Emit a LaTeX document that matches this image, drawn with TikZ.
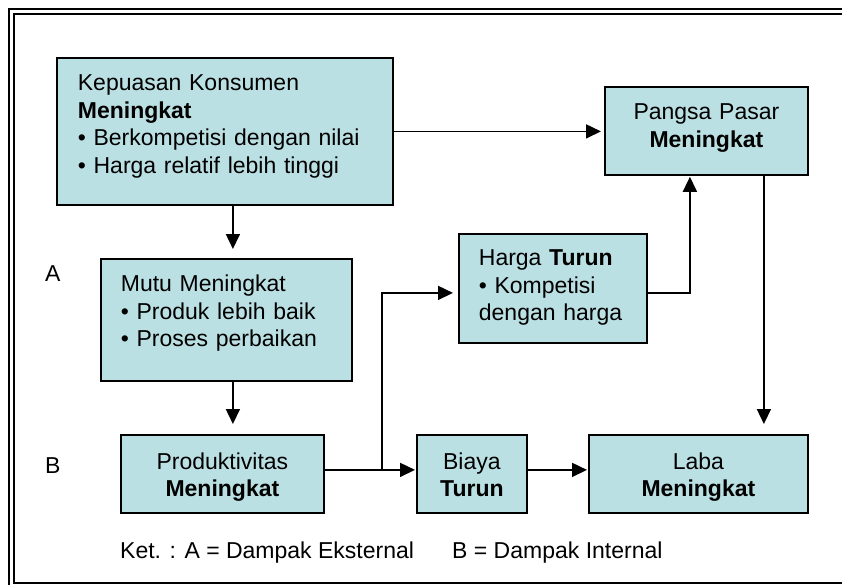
\documentclass[tikz,border=0pt]{standalone}
\usepackage{fontspec}
\setmainfont{Liberation Sans}
\usetikzlibrary{arrows.meta}
\definecolor{isian}{RGB}{187,224,227}
\tikzset{
  kotak/.style={draw, line width=1.8pt, fill=isian, inner ysep=0pt, anchor=north west,
    font=\fontsize{23}{27.5}\selectfont},
  kiri/.style={kotak, align=left},
  tengah/.style={kotak, align=center, inner xsep=0pt},
  panah/.style={line width=1.6pt, -{Triangle[length=15pt,width=14pt]}},
  label/.style={anchor=base west, inner sep=0pt, font=\fontsize{23}{27.5}\selectfont},
  bingkai/.style={line width=2.4pt}
}
\begin{document}
\begin{tikzpicture}[x=1pt, y=-1pt]
    \useasboundingbox (0,0) rectangle (842,585);

    % Double frame, cut off at right and bottom
    \begin{scope}
      \clip (0,0) rectangle (842,585);
      \draw[bingkai] (9,600) -- (9,9) -- (860,9);
      \draw[bingkai] (860,583) -- (14,583) -- (14,14) -- (860,14);
    \end{scope}

    % Boxes
    \node[kiri, inner xsep=21pt, text width=294pt, text height=33pt, text depth=114pt] (kepuasan) at (56,57)
      {Kepuasan Konsumen\\ \textbf{Meningkat}\\ • Berkompetisi dengan nilai\\ • Harga relatif lebih tinggi};
    \node[kiri, inner xsep=20pt, text width=211pt, text height=33pt, text depth=89pt] (mutu) at (100,258)
      {Mutu Meningkat\\ • Produk lebih baik\\ • Proses perbaikan};
    \node[kiri, inner xsep=20pt, text width=148pt, text height=32pt, text depth=77pt] (harga) at (458,233)
      {Harga \textbf{Turun}\\ • Kompetisi\\ dengan harga};
    \node[tengah, text width=203pt, text height=33pt, text depth=55pt] (pangsa) at (604,86)
      {Pangsa Pasar\\ \textbf{Meningkat}};
    \node[tengah, text width=203pt, text height=34.5pt, text depth=43.5pt] (prod) at (120,434)
      {Produktivitas\\ \textbf{Meningkat}};
    \node[tengah, text width=110pt, text height=34.5pt, text depth=43.5pt] (biaya) at (416,434)
      {Biaya\\ \textbf{Turun}};
    \node[tengah, text width=219pt, text height=34.5pt, text depth=43.5pt] (laba) at (588,434)
      {Laba\\ \textbf{Meningkat}};

    % Side labels and legend
    \node[label] (labelA) at (45,281) {A};
    \node[label] (labelB) at (45,473) {B};
    \node[label] (ketA) at (120,558) {Ket. : A = Dampak Eksternal};
    \node[label] (ketB) at (452,558) {B = Dampak Internal};

    % Connectors
    \coordinate (p1) at ([xshift=8pt]kepuasan.south);
    \draw[panah, shorten >=9pt] (p1) -- (p1 |- mutu.north);
    \draw[panah, shorten >=10pt] (p1 |- mutu.south) -- (p1 |- prod.north);
    \draw[panah, shorten >=3pt] (kepuasan.east) -- (kepuasan.east -| pangsa.west);

    \coordinate (q) at ([yshift=4pt]prod.east);
    \draw[panah, shorten >=1pt] (q) -- (q -| biaya.west);
    \coordinate (cabang) at ([xshift=57pt]q);
    \draw[panah, shorten >=5pt] (cabang) |- ([yshift=-4.5pt]harga.west);
    \draw[panah, shorten >=1pt] ([yshift=-4.5pt]harga.east) -| ([xshift=-16.5pt]pangsa.south);

    \coordinate (r) at ([xshift=57.5pt]pangsa.south);
    \draw[panah, shorten >=10pt] (r) -- (r |- laba.north);
    \coordinate (s) at ([yshift=4pt]biaya.east);
    \draw[panah, shorten >=1pt] (s) -- (s -| laba.west);
\end{tikzpicture}
\end{document}
